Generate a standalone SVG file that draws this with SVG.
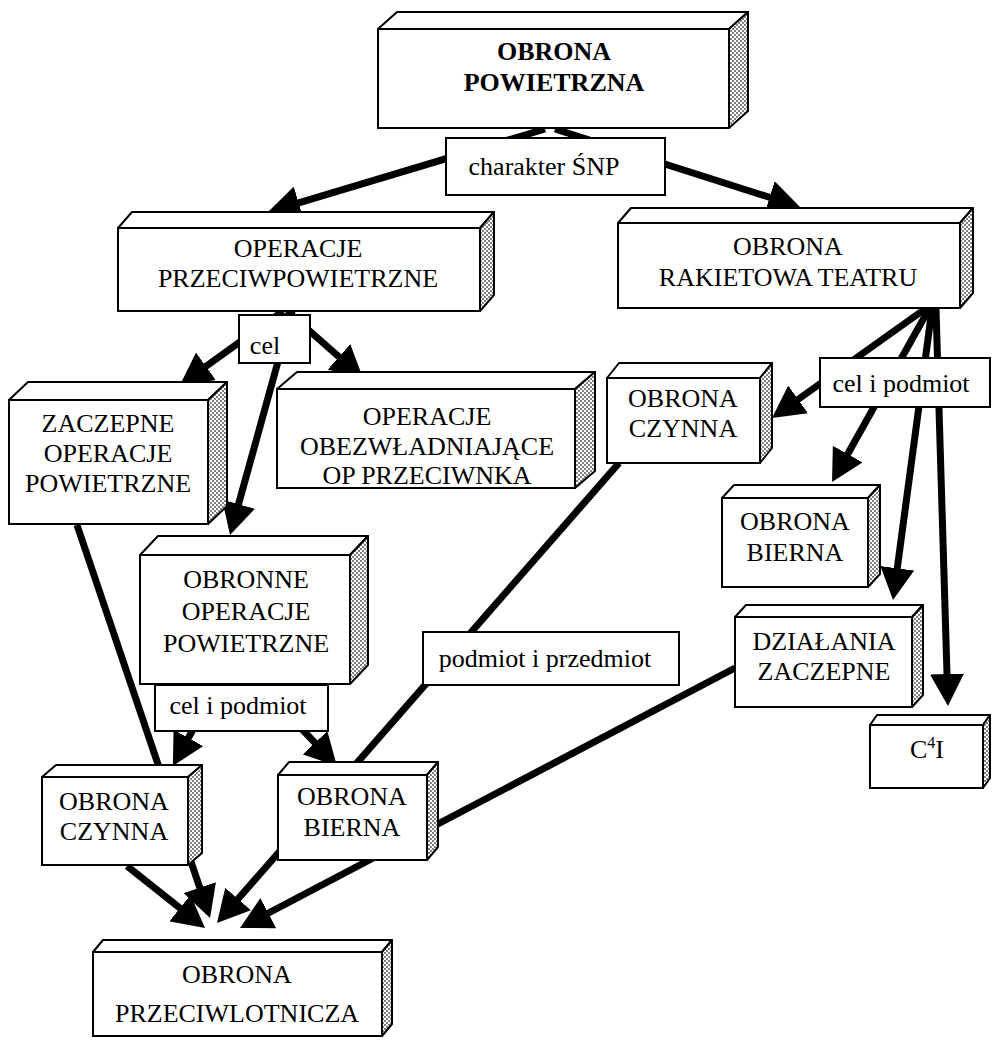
<svg xmlns="http://www.w3.org/2000/svg" width="992" height="1040" viewBox="0 0 992 1040">
<defs>
<pattern id="dots" width="4" height="4" patternUnits="userSpaceOnUse"><rect width="4" height="4" fill="#fff"/><circle cx="1" cy="1" r="0.9" fill="#444"/><circle cx="3" cy="3" r="0.9" fill="#444"/></pattern>
<marker id="ah" markerUnits="userSpaceOnUse" markerWidth="32" markerHeight="34" viewBox="0 0 32 34" refX="20" refY="17" orient="auto"><path d="M0,0 L32,17 L0,34 z" fill="#000"/></marker>
<style>
.front{fill:#fff;stroke:#000;stroke-width:2}
.top{fill:#fff;stroke:#000;stroke-width:2;stroke-linejoin:round}
.side{fill:url(#dots);stroke:#000;stroke-width:2;stroke-linejoin:round}
.lbl{fill:#fff;stroke:#000;stroke-width:2}
text{font-family:"Liberation Serif","Times New Roman",serif;font-size:26px;fill:#000;text-anchor:middle}
.b{font-weight:bold}
.c{fill:none;stroke:#000;stroke-width:7;marker-end:url(#ah)}
.cn{fill:none;stroke:#000;stroke-width:7}
</style>
</defs>
<rect width="992" height="1040" fill="#fff"/>
<g id="connectors">
<line class="c" x1="545" y1="129" x2="279.5" y2="208.6"/>
<line class="c" x1="555" y1="129" x2="788.6" y2="203.4"/>
<line class="c" x1="283" y1="311" x2="189.7" y2="378"/>
<line class="c" x1="287" y1="311" x2="354" y2="370.1"/>
<line class="c" x1="292" y1="311" x2="233.2" y2="523.4"/>
<line class="c" x1="77" y1="525" x2="206.2" y2="906.6"/>
<line class="c" x1="215" y1="690" x2="178.7" y2="755.4"/>
<line class="c" x1="265" y1="690" x2="328.7" y2="757.3"/>
<line class="c" x1="619" y1="463" x2="224.9" y2="914"/>
<line class="c" x1="127" y1="866" x2="195.6" y2="920.5"/>
<line class="c" x1="735" y1="668" x2="250.6" y2="922.4"/>
<line class="c" x1="925" y1="309" x2="781.8" y2="411"/>
<line class="c" x1="929" y1="309" x2="837.9" y2="471.5"/>
<line class="c" x1="932" y1="309" x2="894.6" y2="588.1"/>
<line class="c" x1="936" y1="309" x2="947.6" y2="694"/>
</g>
<g id="n-obrona-powietrzna">
<polygon class="top" points="378,29 397,12 748,12 729,29"/>
<polygon class="side" points="729,29 748,12 748,111 729,128"/>
<rect class="front" x="378" y="29" width="351" height="99"/>
<text class="b" x="554" y="60">OBRONA</text>
<text class="b" x="554" y="91">POWIETRZNA</text>
</g>
<g id="n-operacje-przeciwpowietrzne">
<polygon class="top" points="118,228 132,212 494,212 480,228"/>
<polygon class="side" points="480,228 494,212 494,295 480,311"/>
<rect class="front" x="118" y="228" width="362" height="83"/>
<text x="298" y="257">OPERACJE</text>
<text x="298" y="287">PRZECIWPOWIETRZNE</text>
</g>
<g id="n-obrona-rakietowa">
<polygon class="top" points="618,223 631,208 973,208 960,223"/>
<polygon class="side" points="960,223 973,208 973,293 960,308"/>
<rect class="front" x="618" y="223" width="342" height="85"/>
<text x="788" y="255">OBRONA</text>
<text x="788" y="286">RAKIETOWA TEATRU</text>
</g>
<g id="n-zaczepne-operacje">
<polygon class="top" points="9,400 28,382 227,382 208,400"/>
<polygon class="side" points="208,400 227,382 227,506 208,524"/>
<rect class="front" x="9" y="400" width="199" height="124"/>
<text x="108" y="432">ZACZEPNE</text>
<text x="108" y="462">OPERACJE</text>
<text x="108" y="492">POWIETRZNE</text>
</g>
<g id="n-operacje-obezwladniajace">
<polygon class="top" points="277,389 297,372 595,372 575,389"/>
<polygon class="side" points="575,389 595,372 595,471 575,488"/>
<rect class="front" x="277" y="389" width="298" height="99"/>
<text x="427" y="425">OPERACJE</text>
<text x="427" y="455">OBEZWŁADNIAJĄCE</text>
<text x="427" y="484">OP PRZECIWNKA</text>
</g>
<g id="n-obrona-czynna-1">
<polygon class="top" points="607,378 619,363 772,363 760,378"/>
<polygon class="side" points="760,378 772,363 772,448 760,463"/>
<rect class="front" x="607" y="378" width="153" height="85"/>
<text x="683" y="407">OBRONA</text>
<text x="683" y="437">CZYNNA</text>
</g>
<g id="n-obrona-bierna-1">
<polygon class="top" points="722,498 734,485 880,485 868,498"/>
<polygon class="side" points="868,498 880,485 880,574 868,587"/>
<rect class="front" x="722" y="498" width="146" height="89"/>
<text x="795" y="530">OBRONA</text>
<text x="795" y="561">BIERNA</text>
</g>
<g id="n-obronne-operacje">
<polygon class="top" points="140,555 158,536 368,536 350,555"/>
<polygon class="side" points="350,555 368,536 368,665 350,684"/>
<rect class="front" x="140" y="555" width="210" height="129"/>
<text x="246" y="588">OBRONNE</text>
<text x="246" y="620">OPERACJE</text>
<text x="246" y="652">POWIETRZNE</text>
</g>
<g id="n-dzialania-zaczepne">
<polygon class="top" points="735,617 746,605 923,605 912,617"/>
<polygon class="side" points="912,617 923,605 923,695 912,707"/>
<rect class="front" x="735" y="617" width="177" height="90"/>
<text x="824" y="650">DZIAŁANIA</text>
<text x="824" y="680">ZACZEPNE</text>
</g>
<g id="n-c4i">
<polygon class="top" points="870,725 877,715 990,715 983,725"/>
<polygon class="side" points="983,725 990,715 990,778 983,788"/>
<rect class="front" x="870" y="725" width="113" height="63"/>
<text x="927" y="758">C<tspan dy="-10" font-size="16">4</tspan><tspan dy="10">I</tspan></text>
</g>
<g id="n-obrona-czynna-2">
<polygon class="top" points="42,777 56,765 202,765 188,777"/>
<polygon class="side" points="188,777 202,765 202,853 188,865"/>
<rect class="front" x="42" y="777" width="146" height="88"/>
<text x="114" y="810">OBRONA</text>
<text x="114" y="840">CZYNNA</text>
</g>
<g id="n-obrona-bierna-2">
<polygon class="top" points="278,775 289,762 438,762 427,775"/>
<polygon class="side" points="427,775 438,762 438,847 427,860"/>
<rect class="front" x="278" y="775" width="149" height="85"/>
<text x="352" y="805">OBRONA</text>
<text x="352" y="836">BIERNA</text>
</g>
<g id="n-obrona-przeciwlotnicza">
<polygon class="top" points="93,952 103,940 392,940 382,952"/>
<polygon class="side" points="382,952 392,940 392,1024 382,1036"/>
<rect class="front" x="93" y="952" width="289" height="84"/>
<text x="237" y="983">OBRONA</text>
<text x="237" y="1022">PRZECIWLOTNICZA</text>
</g>
<g id="l-charakter">
<rect class="lbl" x="446" y="138" width="219" height="57"/>
<text x="544" y="175">charakter ŚNP</text>
</g>
<g id="l-cel">
<rect class="lbl" x="239" y="315" width="71" height="48"/>
<text x="265" y="354">cel</text>
</g>
<g id="l-cel-podmiot-1">
<rect class="lbl" x="820" y="358" width="170" height="49"/>
<text x="901" y="392">cel i podmiot</text>
</g>
<g id="l-cel-podmiot-2">
<rect class="lbl" x="155" y="685" width="173" height="46"/>
<text x="238" y="714">cel i podmiot</text>
</g>
<g id="l-podmiot-przedmiot">
<rect class="lbl" x="423" y="632" width="256" height="53"/>
<text x="545" y="667">podmiot i przedmiot</text>
</g>
</svg>
